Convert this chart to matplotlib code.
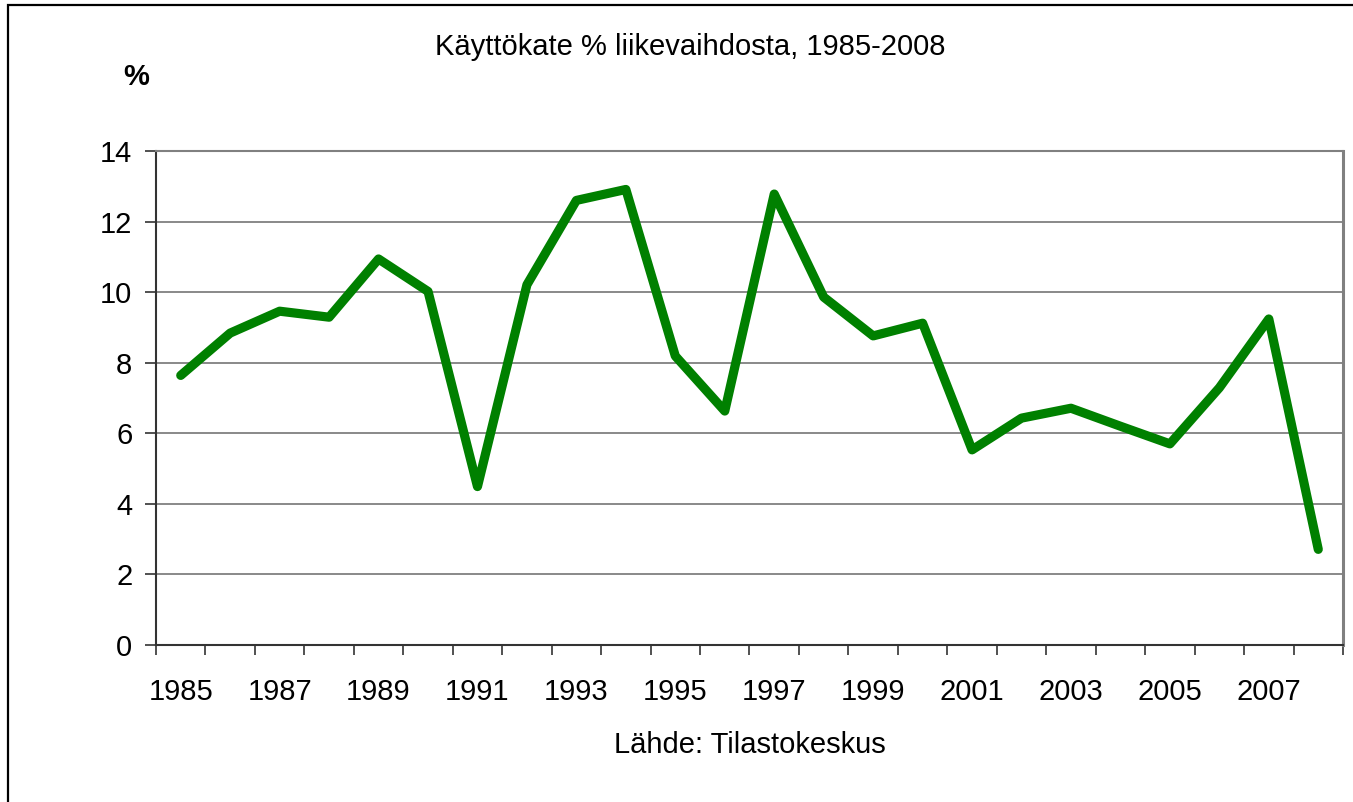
import matplotlib
matplotlib.use("Agg")
import matplotlib.pyplot as plt
from matplotlib.patches import Rectangle

plt.rcParams['font.family'] = ['Liberation Sans', 'DejaVu Sans']

years = list(range(1985, 2009))
values = [7.64, 8.84, 9.46, 9.29, 10.94, 10.02, 4.49, 10.21, 12.60, 12.91,
          8.19, 6.63, 12.78, 9.86, 8.76, 9.12, 5.53, 6.43, 6.71, 6.20,
          5.70, 7.29, 9.24, 2.71]
yticks = [0, 2, 4, 6, 8, 10, 12, 14]
title = "Käyttökate % liikevaihdosta, 1985-2008"
source = "Lähde: Tilastokeskus"

W, H = 1353, 802
fig = plt.figure(figsize=(W / 100, H / 100), dpi=100)
fig.patch.set_facecolor('white')

# outer frame
fig.add_artist(Rectangle((8 / W, -0.05), 1.2, (H - 5) / H + 0.05,
                         transform=fig.transFigure, fill=False,
                         edgecolor='black', lw=1.6, clip_on=False))

ax = fig.add_axes([156 / W, (H - 645) / H, (1343 - 156) / W, (645 - 151) / H])
x = list(range(len(years)))
ax.plot(x, values, color='#008000', lw=6.6, solid_joinstyle='round',
        solid_capstyle='round', zorder=3, clip_on=False)

ax.set_xlim(-0.5, len(years) - 0.5)
ax.set_ylim(0, 14)
ax.set_yticks(yticks)
ax.set_yticklabels([str(v) for v in yticks])
ax.yaxis.grid(True, color='#808080', lw=1.3)
ax.set_axisbelow(True)

# x: tick marks at category boundaries, labels every other year
ax.set_xticks([i - 0.5 for i in range(len(years) + 1)])
ax.set_xticklabels([])
ax.set_xticks(x[::2], minor=True)
ax.set_xticklabels([str(y) for y in years[::2]], minor=True)
ax.tick_params(axis='x', which='major', direction='out', length=7,
               width=1.2, color='#333333')
ax.tick_params(axis='x', which='minor', length=0, pad=24, labelsize=21)
ax.tick_params(axis='y', direction='out', length=8, width=1.2,
               color='#333333', labelsize=21, pad=9)

for s in ['left', 'bottom']:
    ax.spines[s].set_color('#333333')
    ax.spines[s].set_linewidth(1.5)
ax.spines['top'].set_color('#808080')
ax.spines['top'].set_linewidth(1.5)
ax.spines['right'].set_color('#808080')
ax.spines['right'].set_linewidth(2.2)

fig.text(690 / W, 1 - 47 / H, title, ha='center', va='center', fontsize=21)
fig.text(136 / W, 1 - 77 / H, "%", ha='center', va='center', fontsize=21,
         fontweight='bold')
fig.text(750 / W, 1 - 745 / H, source, ha='center', va='center', fontsize=21)

fig.savefig("out.png", dpi=100, facecolor='white')
